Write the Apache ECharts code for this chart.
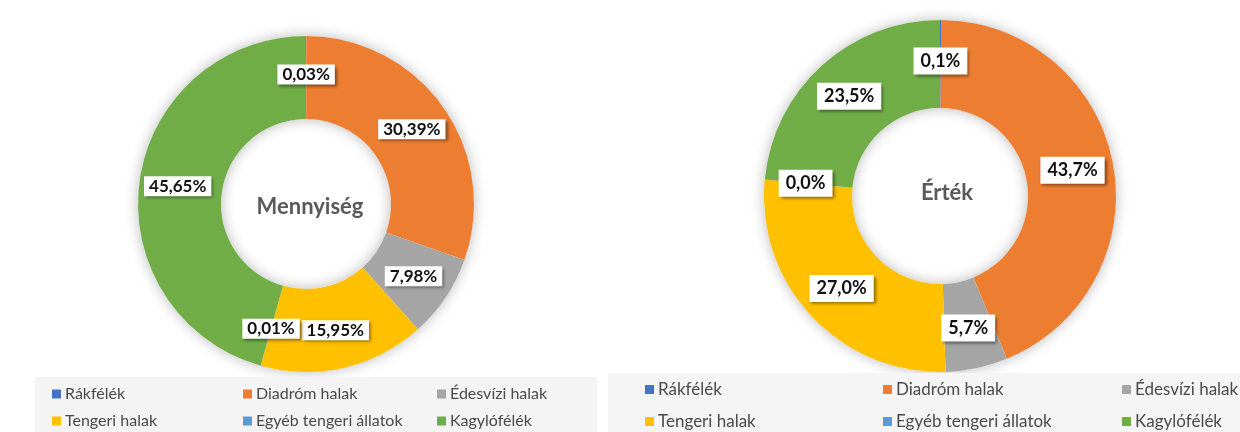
<!DOCTYPE html>
<html>
<head>
<meta charset="utf-8">
<script src="https://cdn.jsdelivr.net/npm/echarts@6/dist/echarts.min.js"></script>
<style>
  html, body { margin: 0; padding: 0; background: #fff; }
  #chart { width: 1240px; height: 432px; }
</style>
</head>
<body>
<div id="chart"></div>
<script>
const categories = ['Rákfélék', 'Diadróm halak', 'Édesvízi halak', 'Tengeri halak', 'Egyéb tengeri állatok', 'Kagylófélék']
const colors = ['#4472C4', '#ED7D31', '#A5A5A5', '#FFC000', '#5B9BD5', '#70AD47']
const mennyiseg = [0.03, 30.39, 7.98, 15.95, 0.01, 45.65]
const ertek = [0.1, 43.7, 5.7, 27.0, 0.0, 23.5]

const font = 'Lato, "Noto Sans", sans-serif'

function pieData(values) {
  return values.map((v, i) => ({ name: categories[i], value: v, itemStyle: { color: colors[i] } }))
}

function fmt(decimals) {
  return p => p.value.toFixed(decimals).replace('.', ',') + '%'
}

function labelStyle(size, decimals, pad) {
  return {
    show: true,
    position: 'inside',
    formatter: fmt(decimals),
    color: '#111',
    fontFamily: font,
    fontWeight: 'bold',
    fontSize: size,
    backgroundColor: '#fff',
    padding: pad,
    shadowColor: 'rgba(0,0,0,0.45)',
    shadowBlur: 3,
    shadowOffsetX: 2,
    shadowOffsetY: 2,
  }
}

function shadowRing(center, radius) {
  return {
    type: 'pie',
    silent: true,
    z: 1,
    center,
    radius,
    label: { show: false },
    labelLine: { show: false },
    data: [{ value: 1, name: '', itemStyle: { color: '#fff', shadowBlur: 14, shadowColor: 'rgba(0,0,0,0.28)' } }],
  }
}

function columnLegend(names, left, top, size, gap, box) {
  return {
    orient: 'vertical',
    left,
    top,
    padding: 0,
    height: 70,
    z: 10,
    data: names,
    icon: 'rect',
    itemWidth: box,
    itemHeight: box,
    itemGap: gap,
    selectedMode: false,
    textStyle: { color: '#4a4a4a', fontFamily: font, fontSize: size, lineHeight: size, padding: [0, 0, 0, -1] },
  }
}

const chart = echarts.init(document.getElementById('chart'))
chart.setOption({
  backgroundColor: '#fff',
  animation: false,
  title: [
    { text: 'Mennyiség', left: 305, top: 202, textAlign: 'center', textVerticalAlign: 'middle',
      textStyle: { color: '#595959', fontFamily: font, fontWeight: 'bold', fontSize: 22 } },
    { text: 'Érték', left: 942, top: 188, textAlign: 'center', textVerticalAlign: 'middle',
      textStyle: { color: '#595959', fontFamily: font, fontWeight: 'bold', fontSize: 22 } },
  ],
  legend: [
    columnLegend(['Rákfélék', 'Tengeri halak'], 52, 386, 16, 11, 9),
    columnLegend(['Diadróm halak', 'Egyéb tengeri állatok'], 243, 386, 16, 11, 9),
    columnLegend(['Édesvízi halak', 'Kagylófélék'], 437, 386, 16, 11, 9),
    columnLegend(['Rákfélék', 'Tengeri halak'], 645, 381, 17, 15, 9),
    columnLegend(['Diadróm halak', 'Egyéb tengeri állatok'], 883, 381, 17, 15, 9),
    columnLegend(['Édesvízi halak', 'Kagylófélék'], 1122, 381, 17, 15, 9),
  ],
  graphic: [
    { type: 'rect', z: 5, shape: { x: 35, y: 377, width: 562, height: 60 }, style: { fill: '#f4f4f4' } },
    { type: 'rect', z: 5, shape: { x: 608, y: 373, width: 640, height: 64 }, style: { fill: '#f5f5f5' } },
  ],
  series: [
    shadowRing([306, 204], [85, 168]),
    {
      type: 'pie',
      name: 'Mennyiség',
      z: 2,
      center: [306, 204],
      radius: [85, 168],
      startAngle: 90,
      clockwise: true,
      silent: true,
      label: labelStyle(17, 2, [2, 5, 1, 5]),
      labelLine: { show: false },
      data: pieData(mennyiseg),
    },
    shadowRing([940, 196], [88, 176]),
    {
      type: 'pie',
      name: 'Érték',
      z: 2,
      center: [940, 196],
      radius: [88, 176],
      startAngle: 90,
      clockwise: true,
      silent: true,
      label: labelStyle(18, 1, [5, 7, 4, 7]),
      labelLine: { show: false },
      data: pieData(ertek),
    },
  ],
})
</script>
</body>
</html>
